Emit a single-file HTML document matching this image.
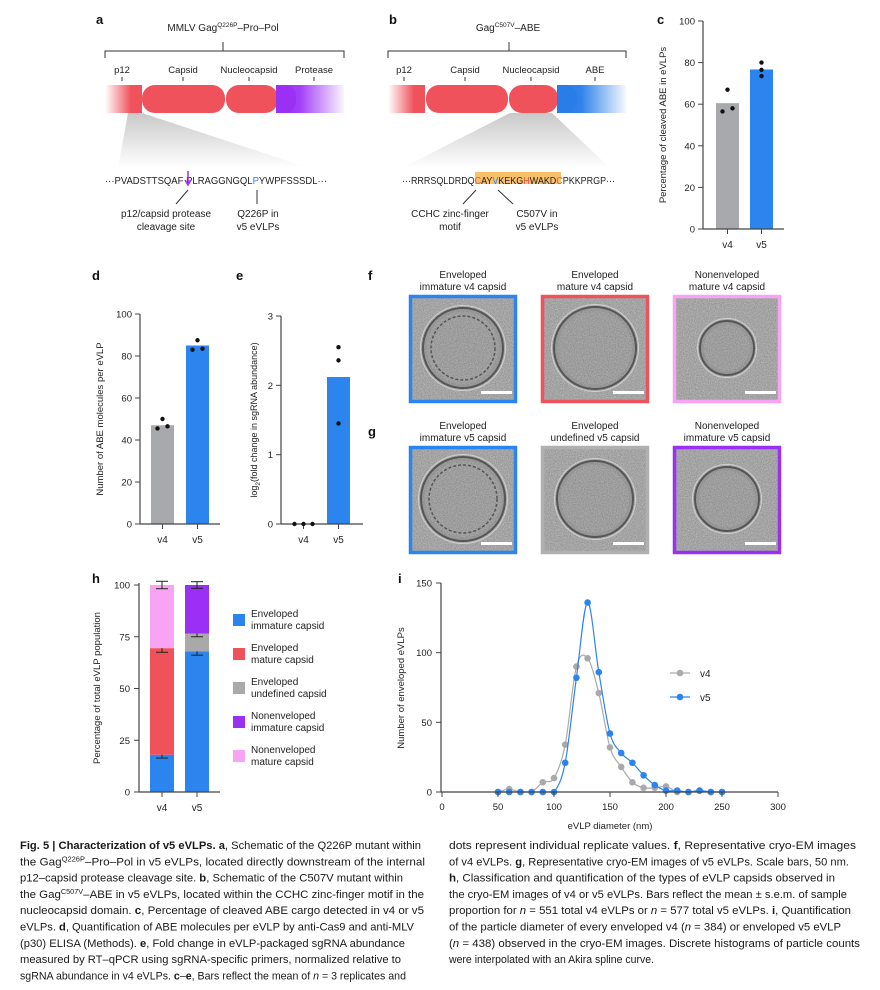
<!DOCTYPE html>
<html><head><meta charset="utf-8"><style>
html,body{margin:0;padding:0;background:#fff;}
svg{display:block;font-family:"Liberation Sans",sans-serif;}
</style></head><body>
<svg id="fig" width="880" height="990" viewBox="0 0 880 990" xmlns="http://www.w3.org/2000/svg">
<defs>
<linearGradient id="gP12" x1="0" x2="1"><stop offset="0" stop-color="#f0525c" stop-opacity="0"/><stop offset="0.7" stop-color="#f0525c"/></linearGradient>
<linearGradient id="gProt" x1="0" x2="1"><stop offset="0" stop-color="#9b30f5"/><stop offset="0.35" stop-color="#a43ff7"/><stop offset="1" stop-color="#a43ff7" stop-opacity="0.05"/></linearGradient>
<linearGradient id="gAbe" x1="0" x2="1"><stop offset="0" stop-color="#2a7de8"/><stop offset="0.35" stop-color="#2f83ea"/><stop offset="1" stop-color="#2f83ea" stop-opacity="0.05"/></linearGradient>
<linearGradient id="gTrap" x1="0" y1="0" x2="0" y2="1"><stop offset="0" stop-color="#c8c8c8"/><stop offset="1" stop-color="#c8c8c8" stop-opacity="0"/></linearGradient>
<filter id="noise" x="0" y="0" width="100%" height="100%"><feTurbulence type="fractalNoise" baseFrequency="0.85" numOctaves="2" seed="3"/><feColorMatrix type="matrix" values="0 0 0 0 0.5  0 0 0 0 0.5  0 0 0 0 0.5  0 0 0 1.4 -0.2"/><feComposite in2="SourceGraphic" operator="in"/></filter>
</defs>
<g id="root"></g>
</svg>
<script>
// ---------- chart data ----------
const groups = ['v4','v5'];
const cVals = [60.5, 76.7];
const cDots = [[67, 56.5, 58],[80, 76.5, 73.5]];
const dVals = [47, 85];
const dDots = [[50, 45.5, 46.5],[87.5, 83, 83.5]];
const eVals = [0, 2.12];
const eDots = [[0, 0, 0],[2.55, 2.36, 1.45]];
const hCats = ['Enveloped immature capsid','Enveloped mature capsid','Enveloped undefined capsid','Nonenveloped immature capsid','Nonenveloped mature capsid'];
const hV4 = [18, 51.5, 0, 0, 30.5];
const hV5 = [68, 0, 8.5, 23.5, 0];
const hErrV4 = [1.6, 2.0, 0, 0, 1.8];
const hErrV5 = [1.9, 0, 1.5, 1.6, 0];
const iDiam = [50,60,70,80,90,100,110,120,130,140,150,160,170,180,190,200,210,220,230,240,250];
const iV4 = [0,2,0,0,7,10,34,90,96,71,32,18,7,3,3,4,0,0,1,0,0];
const iV5 = [0,0,0,0,0,0,21,82,136,86,42,28,21,12,5,1,1,0,1,0,0];
const iXTicks = [0,50,100,150,200,250,300];
const iYTicks = [0,50,100,150];

const NS='http://www.w3.org/2000/svg';
const root=document.getElementById('root');
function mk(tag, attrs, parent){const e=document.createElementNS(NS,tag);for(const k in attrs)e.setAttribute(k,attrs[k]);(parent||root).appendChild(e);return e;}
function txt(x,y,s,size,opts){opts=opts||{};const t=mk('text',{x:x,y:y,'font-size':size,fill:opts.fill||'#222','text-anchor':opts.anchor||'start','font-weight':opts.bold?'bold':'normal'},opts.parent);if(opts.rot)t.setAttribute('transform','rotate(-90 '+x+' '+y+')');if(opts.len){t.setAttribute('textLength',opts.len);t.setAttribute('lengthAdjust','spacingAndGlyphs');}t.textContent=s;return t;}
function line(x1,y1,x2,y2,c,w,parent){return mk('line',{x1:x1,y1:y1,x2:x2,y2:y2,stroke:c||'#333',"stroke-width":w||1},parent);}
const GRAY='#a8a9ad', BLUE='#2c84ef', RED='#f0525c', LGRAY='#a9a9a9', PURPLE='#9b30f5', PINK='#f9a3f4';

// panel labels
[['a',96,24],['b',389,24],['c',657,24],['d',92,280],['e',236,280],['f',368,280],['g',368,436],['h',92,583],['i',398,583]].forEach(p=>{
  const t=txt(p[1],p[2],p[0],13,{bold:true,fill:'#111'});
  
  
});

// ---------- schematics a & b ----------
function schematic(cfg){
  const g=mk('g',{});
  
  
  const tt=mk('text',{x:cfg.tx,y:31,'font-size':10,'text-anchor':'middle',fill:'#222'},g);
  tt.innerHTML=cfg.title;
  line(cfg.stem,42,cfg.stem,51,'#333',1,g);
  mk('path',{d:`M${cfg.x0} 58 V51 H${cfg.x1} V58`,fill:'none',stroke:'#333','stroke-width':1},g);
  cfg.labels.forEach(l=>{txt(l[1],73,l[0],9.5,{anchor:'middle',parent:g});line(l[1],77,l[1],81,'#333',1,g);});
  mk('path',{d:cfg.trap,fill:'url(#gTrap)'},g);
  cfg.segs.forEach(s=>{mk('rect',{x:s[0],y:85,width:s[1]-s[0],height:28,rx:s[3]===undefined?13:s[3],fill:s[2]},g);});
  return g;
}
schematic({name:'schematic-a',tx:223,title:'MMLV Gag<tspan font-size="6.5" dy="-4">Q226P</tspan><tspan dy="4">–Pro–Pol</tspan>',stem:223,x0:105,x1:344,
  labels:[['p12',122],['Capsid',183],['Nucleocapsid',249],['Protease',314]],
  trap:'M128 113 L142 113 L309 168 L118 168 Z',
  segs:[[105,142,'url(#gP12)',0],[142,225,RED],[226,278,RED],[276,344,'url(#gProt)',0]]});
mk('rect',{x:276,y:85,width:20,height:28,rx:12,fill:'#9b30f5'});
schematic({name:'schematic-b',tx:508,title:'Gag<tspan font-size="6.5" dy="-4">C507V</tspan><tspan dy="4">–ABE</tspan>',stem:509,x0:388,x1:626,
  labels:[['p12',404],['Capsid',465],['Nucleocapsid',531],['ABE',595]],
  trap:'M510 113 L552 113 L610 168 L402 168 Z',
  segs:[[388,425,'url(#gP12)',0],[426,508,RED],[509,558,RED],[557,626,'url(#gAbe)',0]]});
mk('rect',{x:557,y:85,width:20,height:28,rx:12,fill:'#2a7de8'});

// sequences
const sa=mk('text',{x:105,y:184,'font-size':10,fill:'#222',textLength:222,lengthAdjust:'spacingAndGlyphs'});


sa.innerHTML='···PVADSTTSQAF  PLRAGGNGQL<tspan fill="#2c84ef">P</tspan>YWPFSSSDL···';
mk('path',{d:'M188 171 V184 M185 180 L188 185 L191 180',stroke:PURPLE,'stroke-width':1.5,fill:'none'});
line(188,190,176,204);line(257,190,257,204);
txt(166,217,'p12/capsid protease',10,{anchor:'middle'});txt(166,230,'cleavage site',10,{anchor:'middle'});
txt(258,217,'Q226P in',10,{anchor:'middle'});txt(258,230,'v5 eVLPs',10,{anchor:'middle'});
mk('rect',{x:475,y:172,width:86,height:12,fill:'#f9c26a'});
const sb=mk('text',{x:402,y:184,'font-size':10,fill:'#222',textLength:213,lengthAdjust:'spacingAndGlyphs'});


sb.innerHTML='···RRRSQLDRDQ<tspan fill="#e8523a">C</tspan>AY<tspan fill="#2c84ef">V</tspan>KEKG<tspan fill="#e8523a">H</tspan>WAKD<tspan fill="#e8523a">C</tspan>PKKPRGP···';
line(476,190,463,204);line(498,190,513,204);
txt(450,217,'CCHC zinc-finger',10,{anchor:'middle'});txt(450,230,'motif',10,{anchor:'middle'});
txt(537,217,'C507V in',10,{anchor:'middle'});txt(537,230,'v5 eVLPs',10,{anchor:'middle'});

// ---------- bar charts c,d,e ----------
function barChart(cfg){
  const g=mk('g',{});
  
  
  const y=v=>cfg.y0-(v-cfg.min)/(cfg.max-cfg.min)*(cfg.y0-cfg.yTop);
  cfg.vals.forEach((v,i)=>{
    const x=cfg.bx[i];
    const b=mk('rect',{x:x,y:y(v),width:cfg.bw,height:y(0)-y(v),fill:i?BLUE:GRAY},g);
    
    
  });
  line(cfg.ax,cfg.yTop,cfg.ax,cfg.y0,'#444',1.2,g);
  line(cfg.ax,cfg.y0,cfg.axEnd,cfg.y0,'#444',1.2,g);
  cfg.ticks.forEach(t=>{line(cfg.ax-5,y(t),cfg.ax,y(t),'#444',1,g);txt(cfg.ax-8,y(t)+3.5,String(t),9.5,{anchor:'end',parent:g});});
  groups.forEach((n,i)=>{const cx=cfg.bx[i]+cfg.bw/2;line(cx,cfg.y0,cx,cfg.y0+5,'#444',1,g);txt(cx,cfg.y0+19,n,10,{anchor:'middle',parent:g});});
  cfg.dots.forEach((arr,i)=>{
    const cx=cfg.bx[i]+cfg.bw/2;const offs=cfg.offs[i];
    arr.forEach((v,j)=>{const d=mk('circle',{cx:cx+offs[j],cy:y(v),r:2.2,fill:'#111'},g);
      
      });
  });
  const yl=mk('text',{x:cfg.ylx,y:cfg.yly,'font-size':cfg.yfs||9.5,'text-anchor':'middle',fill:'#222',transform:`rotate(-90 ${cfg.ylx} ${cfg.yly})`},g);
  yl.innerHTML=cfg.ylabel;
  
  
}
barChart({name:'chart-c',ax:703,axEnd:784,y0:229,yTop:21,min:0,max:100,ticks:[0,20,40,60,80,100],bx:[716,750],bw:23,vals:cVals,dots:cDots,offs:[[0,-5,5],[0,0,0]],ylx:666,yly:125,ylabel:'Percentage of cleaved ABE in eVLPs'});
barChart({name:'chart-d',ax:140,axEnd:220,y0:524,yTop:314,min:0,max:100,ticks:[0,20,40,60,80,100],bx:[151,186],bw:23,vals:dVals,dots:dDots,offs:[[0,-5,5],[0,-5,5]],ylx:103,yly:419,ylabel:'Number of ABE molecules per eVLP'});
barChart({name:'chart-e',ax:281,axEnd:363,y0:524,yTop:316,min:0,max:3,ticks:[0,1,2,3],bx:[292,327],bw:23,vals:eVals,dots:eDots,offs:[[-9,0,9],[0,0,0]],ylx:257,yly:420,yfs:9,ylabel:'log<tspan font-size="6.5" dy="3">2</tspan><tspan dy="-3">(fold change in sgRNA abundance)</tspan>'});

// ---------- micrographs ----------
const mics=[
 {x:409,y:295,c:BLUE,t1:'Enveloped',t2:'immature v4 capsid',r:40,ring:2},
 {x:541,y:295,c:RED,t1:'Enveloped',t2:'mature v4 capsid',r:41,ring:1},
 {x:673,y:295,c:PINK,t1:'Nonenveloped',t2:'mature v4 capsid',r:27,ring:0},
 {x:409,y:446,c:BLUE,t1:'Enveloped',t2:'immature v5 capsid',r:42,ring:2},
 {x:541,y:446,c:'#b0b0b0',t1:'Enveloped',t2:'undefined v5 capsid',r:38,ring:1},
 {x:673,y:446,c:PURPLE,t1:'Nonenveloped',t2:'immature v5 capsid',r:32,ring:1}];
mics.forEach((m,i)=>{
  const g=mk('g',{});
  
  
  txt(m.x+54,m.y-17,m.t1,10,{anchor:'middle',parent:g});
  txt(m.x+54,m.y-5,m.t2,10,{anchor:'middle',parent:g});
  mk('rect',{x:m.x,y:m.y,width:108,height:108,fill:'#8d8d8d'},g);
  mk('rect',{x:m.x,y:m.y,width:108,height:108,fill:'#888',filter:'url(#noise)'},g);
  const cx=m.x+54, cy=m.y+53;
  mk('circle',{cx:cx,cy:cy,r:m.r,fill:'#6f6f6f','fill-opacity':0.25,stroke:'#555','stroke-width':2},g);
  mk('circle',{cx:cx,cy:cy,r:m.r+2.5,fill:'none',stroke:'#d0d0d0','stroke-width':1},g);
  mk('circle',{cx:cx,cy:cy,r:m.r-4,fill:'#888','fill-opacity':0.4,filter:'url(#noise)'},g);
  if(m.ring>1) mk('circle',{cx:cx,cy:cy,r:m.r-8,fill:'none',stroke:'#555','stroke-width':1.5,'stroke-dasharray':'3 2'},g);
  mk('rect',{x:m.x+1.5,y:m.y+1.5,width:105,height:105,fill:'none',stroke:m.c,'stroke-width':3.5},g);
  mk('rect',{x:m.x+72,y:m.y+96,width:31,height:3,fill:'#fff'},g);
});

// ---------- panel h stacked bars ----------
(function(){
  const g=mk('g',{});
  
  
  const y0=792,yT=585,y=v=>y0-v/100*(y0-yT);
  const cols=[BLUE,RED,LGRAY,PURPLE,PINK];
  [[hV4,hErrV4,150],[hV5,hErrV5,185]].forEach((s,gi)=>{
    let acc=0;
    s[0].forEach((v,k)=>{if(!v)return;
      const r=mk('rect',{x:s[2],y:y(acc+v),width:24,height:y(acc)-y(acc+v),fill:cols[k]},g);
      
      
      acc+=v;
      const e=s[1][k],cx=s[2]+12;
      line(cx,y(acc+e),cx,y(acc-e),'#222',1,g);line(cx-6,y(acc+e),cx+6,y(acc+e),'#222',1,g);line(cx-6,y(acc-e),cx+6,y(acc-e),'#222',1,g);
    });
    line(s[2]+12,y0,s[2]+12,y0+5,'#444',1,g);
    txt(s[2]+12,y0+19,groups[gi],10,{anchor:'middle',parent:g});
  });
  line(139,583,139,y0,'#444',1.2,g);line(139,y0,220,y0,'#444',1.2,g);
  [0,25,50,75,100].forEach(t=>{line(134,y(t),139,y(t),'#444',1,g);txt(130,y(t)+3.5,String(t),9.5,{anchor:'end',parent:g});});
  const yl=txt(100,688,'Percentage of total eVLP population',9.5,{anchor:'middle',rot:true,parent:g});
  
  
  const lab=[['Enveloped','immature capsid'],['Enveloped','mature capsid'],['Enveloped','undefined capsid'],['Nonenveloped','immature capsid'],['Nonenveloped','mature capsid']];
  hCats.forEach((c,k)=>{const ly=620+k*34;
    const le=mk('g',{},g);
    
    
    mk('rect',{x:233,y:ly-6,width:12,height:12,fill:cols[k]},le);
    txt(251,ly-3,lab[k][0],10,{parent:le});txt(251,ly+9,lab[k][1],10,{parent:le});});
})();

// ---------- panel i line chart ----------
(function(){
  const g=mk('g',{});
  
  
  const X=v=>442+v*1.12, Y=v=>792-v*(209/150);
  function spline(xs,ys){
    const p=xs.map((x,i)=>[X(x),Y(ys[i])]);let d='M'+p[0][0]+' '+p[0][1];
    for(let i=0;i<p.length-1;i++){const p0=p[Math.max(0,i-1)],p1=p[i],p2=p[i+1],p3=p[Math.min(p.length-1,i+2)];
      const c1=[p1[0]+(p2[0]-p0[0])/6,p1[1]+(p2[1]-p0[1])/6],c2=[p2[0]-(p3[0]-p1[0])/6,p2[1]-(p3[1]-p1[1])/6];
      d+=` C${c1[0]} ${Math.min(c1[1],792)} ${c2[0]} ${Math.min(c2[1],792)} ${p2[0]} ${p2[1]}`;}
    return d;}
  [[iV4,'#aaaaaa','v4'],[iV5,'#2c84ef','v5']].forEach(s=>{
    const pth=mk('path',{d:spline(iDiam,s[0]),fill:'none',stroke:s[1],'stroke-width':1.2},g);
    
    
    s[0].forEach((v,k)=>{const c=mk('circle',{cx:X(iDiam[k]),cy:Y(v),r:3.3,fill:s[1]},g);
      
      });
  });
  line(441,583,441,792,'#444',1.2,g);line(441,792,778,792,'#444',1.2,g);
  iXTicks.forEach(t=>{line(X(t),792,X(t),797,'#444',1,g);txt(X(t),810,String(t),9.5,{anchor:'middle',parent:g});});
  iYTicks.forEach(t=>{line(436,Y(t),441,Y(t),'#444',1,g);txt(432,Y(t)+3.5,String(t),9.5,{anchor:'end',parent:g});});
  const xl=txt(610,829,'eVLP diameter (nm)',9.5,{anchor:'middle',parent:g});
  
  
  const yl=txt(404,688,'Number of enveloped eVLPs',9.5,{anchor:'middle',rot:true,parent:g});
  
  
  [['v4','#aaaaaa',673],['v5','#2c84ef',697]].forEach(l=>{
    const le=mk('g',{},g);
    
    
    line(670,l[2],690,l[2],l[1],1.2,le);mk('circle',{cx:680,cy:l[2],r:3.3,fill:l[1]},le);
    txt(700,l[2]+4,l[0],10,{parent:le});});
})();

// ---------- caption ----------
const capL=[
 '<tspan font-weight="bold">Fig. 5 | Characterization of v5 eVLPs. a</tspan>, Schematic of the Q226P mutant within',
 'the Gag<tspan font-size="7" dy="-4">Q226P</tspan><tspan dy="4">–Pro–Pol in v5 eVLPs, located directly downstream of the internal</tspan>',
 'p12–capsid protease cleavage site. <tspan font-weight="bold">b</tspan>, Schematic of the C507V mutant within',
 'the Gag<tspan font-size="7" dy="-4">C507V</tspan><tspan dy="4">–ABE in v5 eVLPs, located within the CCHC zinc-finger motif in the</tspan>',
 'nucleocapsid domain. <tspan font-weight="bold">c</tspan>, Percentage of cleaved ABE cargo detected in v4 or v5',
 'eVLPs. <tspan font-weight="bold">d</tspan>, Quantification of ABE molecules per eVLP by anti-Cas9 and anti-MLV',
 '(p30) ELISA (Methods). <tspan font-weight="bold">e</tspan>, Fold change in eVLP-packaged sgRNA abundance',
 'measured by RT–qPCR using sgRNA-specific primers, normalized relative to',
 'sgRNA abundance in v4 eVLPs. <tspan font-weight="bold">c</tspan>–<tspan font-weight="bold">e</tspan>, Bars reflect the mean of <tspan font-style="italic">n</tspan> = 3 replicates and'];
const capR=[
 'dots represent individual replicate values. <tspan font-weight="bold">f</tspan>, Representative cryo-EM images',
 'of v4 eVLPs. <tspan font-weight="bold">g</tspan>, Representative cryo-EM images of v5 eVLPs. Scale bars, 50 nm.',
 '<tspan font-weight="bold">h</tspan>, Classification and quantification of the types of eVLP capsids observed in',
 'the cryo-EM images of v4 or v5 eVLPs. Bars reflect the mean ± s.e.m. of sample',
 'proportion for <tspan font-style="italic">n</tspan> = 551 total v4 eVLPs or <tspan font-style="italic">n</tspan> = 577 total v5 eVLPs. <tspan font-weight="bold">i</tspan>, Quantification',
 'of the particle diameter of every enveloped v4 (<tspan font-style="italic">n</tspan> = 384) or enveloped v5 eVLP',
 '(<tspan font-style="italic">n</tspan> = 438) observed in the cryo-EM images. Discrete histograms of particle counts',
 'were interpolated with an Akira spline curve.'];
const capWL=[401,405,383,404,404,394,385,381,386];
const capWR=[407,400,386,398,402,392,411,205];
const cg=mk('g',{});


capL.forEach((s,i)=>{const t=mk('text',{x:20,y:849+i*16.3,'font-size':11,fill:'#1a1a1a',textLength:capWL[i],lengthAdjust:'spacingAndGlyphs'},cg);t.innerHTML=s;});
capR.forEach((s,i)=>{const t=mk('text',{x:449,y:849+i*16.3,'font-size':11,fill:'#1a1a1a',textLength:capWR[i],lengthAdjust:'spacingAndGlyphs'},cg);t.innerHTML=s;});
</script>
</body></html>
